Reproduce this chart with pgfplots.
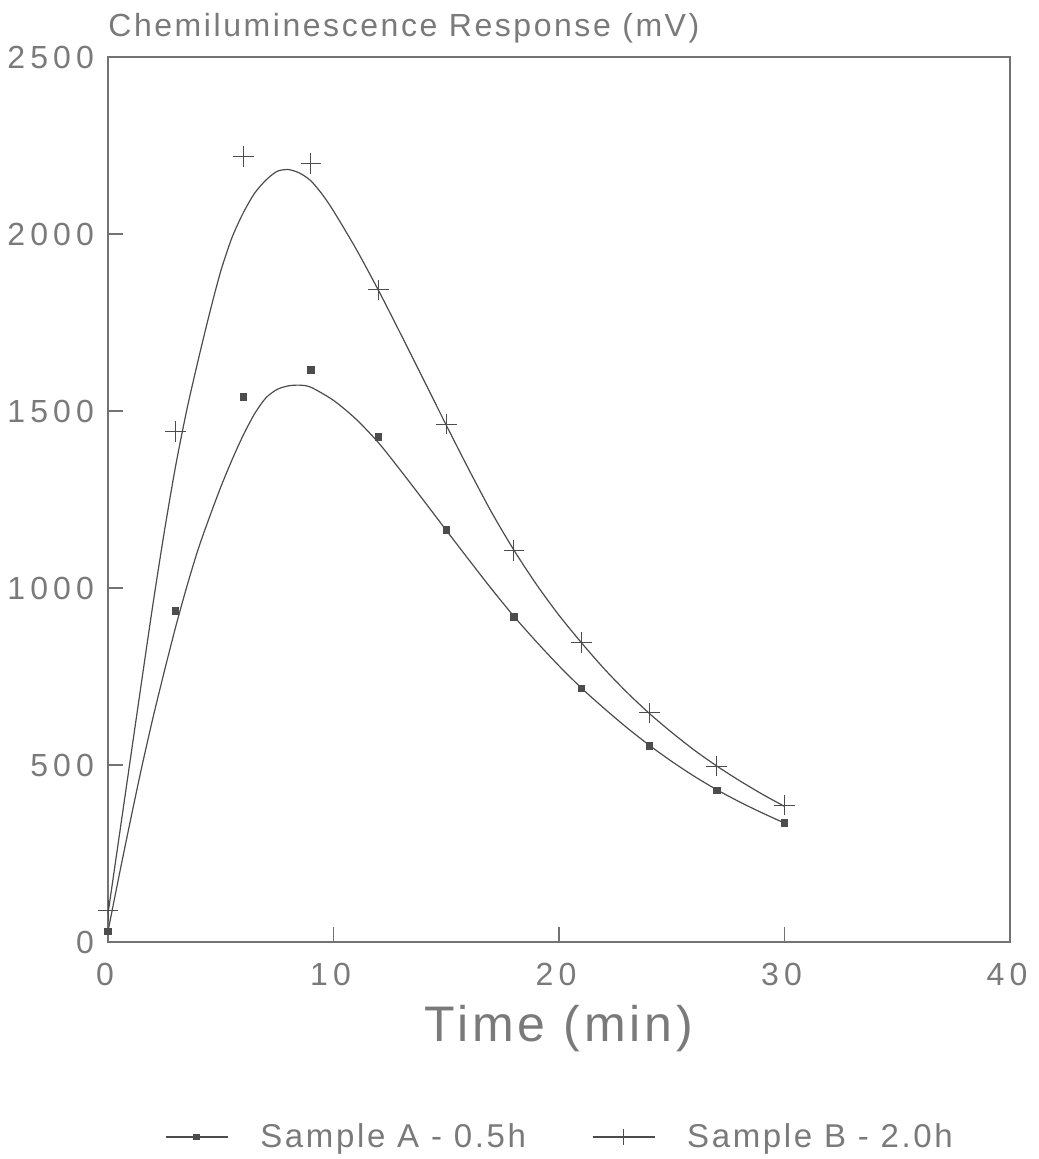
\documentclass[border=0pt]{standalone}
\usepackage{pgfplots}
\pgfplotsset{compat=1.18}
\usepackage{fontspec}
\setmainfont{Liberation Sans}
\newfontfamily\widefont[LetterSpace=8]{Liberation Sans}
\newfontfamily\tickfont[LetterSpace=16]{Liberation Sans}
\definecolor{ink}{gray}{0.30}
\definecolor{txt}{gray}{0.48}
\definecolor{axl}{gray}{0.45}
\pgfplotsset{
  mylegend/.style={legend image code/.code={%
    \draw[mark repeat=2,mark phase=2,sharp plot,#1] plot coordinates {(0pt,0pt) (15.5pt,0pt) (31pt,0pt)};}},
}
\begin{document}
\begin{tikzpicture}
\useasboundingbox (-54pt,-108.5pt) rectangle (465pt,471pt);
\begin{axis}[
  scale only axis, width=451pt, height=442.5pt,
  at={(0,0)}, anchor=south west,
  xmin=0, xmax=40, ymin=0, ymax=2500,
  xtick={0,10,20,30,40}, ytick={0,500,1000,1500,2000,2500},
  tick align=inside, xtick pos=bottom, ytick pos=left,
  major tick length=7.5pt,
  axis line style={axl, line width=0.6pt},
  every tick/.style={axl, line width=0.6pt},
  /pgf/number format/assume math mode=true,
  /pgf/number format/1000 sep={},
  tick label style={font=\tickfont\fontsize{16}{18}\selectfont, text=txt},
  xticklabel style={yshift=-7pt, xshift=-1.5pt},
  yticklabel style={xshift=-3.5pt},
  xlabel={Time (min)},
  xlabel style={font=\widefont\fontsize{25}{30}\selectfont, text=txt, at={(axis description cs:0.5,-0.098)}, anchor=center},
  legend columns=2,
  legend style={at={(axis description cs:0.5,-0.2203)}, anchor=center, draw=none, fill=none,
    font=\widefont\fontsize{16.5}{20}\selectfont, text=txt, inner sep=0pt,
    nodes={inner sep=0pt},
    /tikz/every odd column/.append style={column sep=16pt},
    /tikz/every even column/.append style={column sep=33pt}},
  clip=false,
]
% fitted curves
\addplot[ink, line width=0.6pt, smooth, tension=0.45, forget plot] coordinates {
(0,30)(0.5,190)(1,345)(1.5,495)(2,635)(2.5,765)(3,890)(3.5,1005)(4,1110)(4.5,1200)
(5,1285)(5.5,1362)(6,1432)(6.5,1492)(7,1537)(7.5,1561)(8,1571)(8.5,1573)(9,1567)
(10,1530)(11,1477)(12,1410)(13,1330)(14,1247)(15,1163)(16,1080)(17,998)(18,920)
(19,848)(20,780)(21,717)(22,660)(23,606)(24,556)(25,510)(26,468)(27,430)(28,396)
(29,365)(30,336)};
\addplot[ink, line width=0.6pt, smooth, tension=0.45, forget plot] coordinates {
(0,80)(0.5,300)(1,520)(1.5,740)(2,957)(2.5,1160)(3,1345)(3.5,1505)(4,1644)(4.5,1775)
(5,1895)(5.5,1990)(6,2060)(6.5,2115)(7,2152)(7.5,2177)(8,2182)(8.5,2172)(9,2150)
(9.5,2112)(10,2065)(11,1958)(12,1840)(13,1715)(14,1588)(15,1460)(16,1335)(17,1215)
(18,1107)(19,1010)(20,923)(21,845)(22,772)(23,706)(24,646)(25,592)(26,542)(27,497)
(28,456)(29,418)(30,383)};
% data points
\addplot[only marks, mark=square*, mark size=1.6pt, ink, forget plot] coordinates {
(0,30)(3,935)(6,1540)(9,1616)(12,1427)(15,1164)(18,918)(21,717)(24,554)(27,429)(30,336)};
\addplot[only marks, mark=+, mark size=5.2pt, ink, line width=0.5pt, forget plot] coordinates {
(0,88)(3,1443)(6,2220)(9,2200)(12,1842)(15,1463)(18,1105)(21,845)(24,647)(27,497)(30,387)};
% legend entries
\addlegendimage{mylegend, ink, line width=0.6pt, mark=square*, mark size=1.4pt}
\addlegendentry{Sample A - 0.5h}
\addlegendimage{mylegend, ink, line width=0.6pt, mark=+, mark size=4.2pt}
\addlegendentry{Sample B - 2.0h}
\node[anchor=base west, inner sep=0pt, font=\widefont\fontsize{16}{18}\selectfont, text=txt]
  at (rel axis cs:0,1) [yshift=10pt] {Chemiluminescence Response (mV)};
\end{axis}
\end{tikzpicture}
\end{document}
